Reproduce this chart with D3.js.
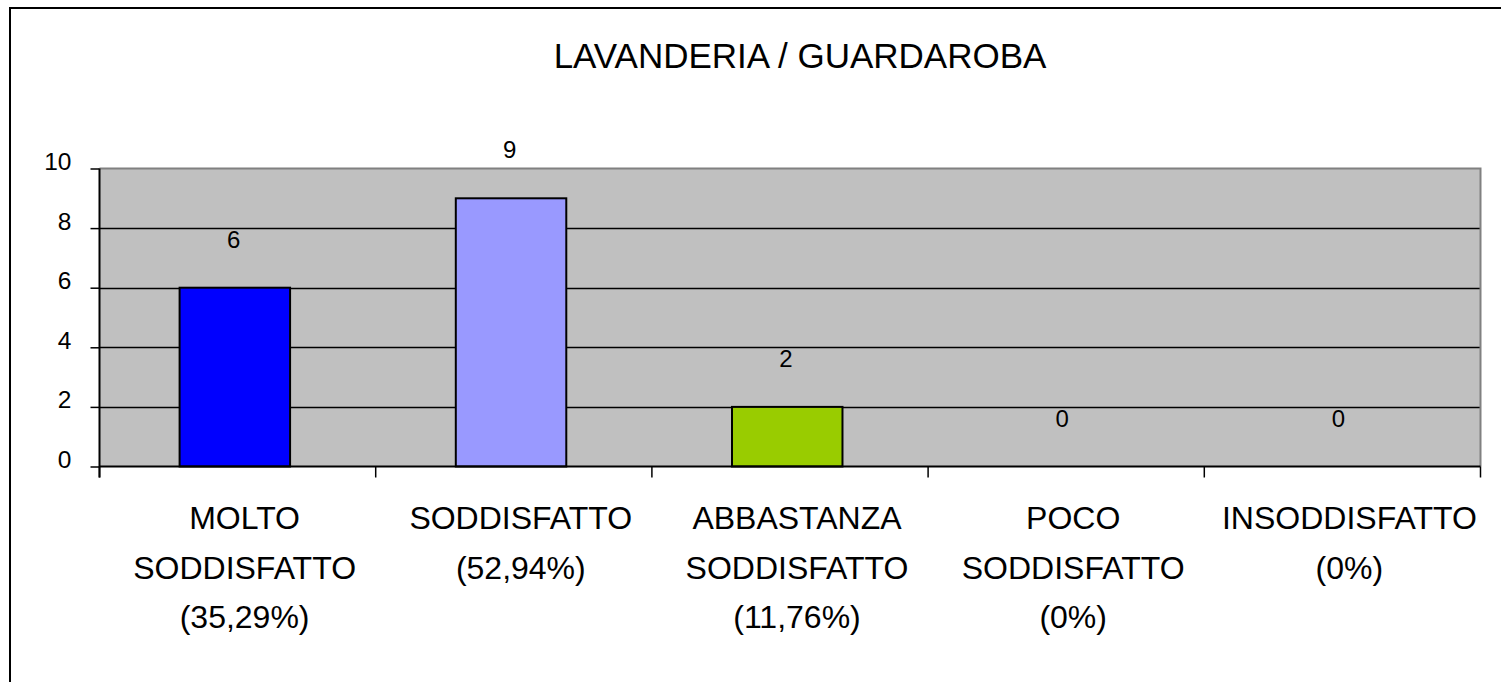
<!DOCTYPE html>
<html>
<head>
<meta charset="utf-8">
<script src="https://cdn.jsdelivr.net/npm/d3@7"></script>
<style>
  body { margin: 0; background: #fff; }
  svg { display: block; font-family: "Liberation Sans", Arial, sans-serif; }
</style>
</head>
<body>
<div id="chart"></div>
<script>
// Data
const title = 'LAVANDERIA / GUARDAROBA';
const categories = ['MOLTO SODDISFATTO', 'SODDISFATTO', 'ABBASTANZA SODDISFATTO', 'POCO SODDISFATTO', 'INSODDISFATTO'];
const values = [6, 9, 2, 0, 0];
const labelLines = [
  ['MOLTO', 'SODDISFATTO', '(35,29%)'],
  ['SODDISFATTO', '(52,94%)'],
  ['ABBASTANZA', 'SODDISFATTO', '(11,76%)'],
  ['POCO', 'SODDISFATTO', '(0%)'],
  ['INSODDISFATTO', '(0%)']
];
const barColors = ['#0000ff', '#9999ff', '#99cc00', '#993366', '#ffffcc'];
const yTicks = [0, 2, 4, 6, 8, 10];

function buildChart() {
  const width = 1501;
  const height = 682;
  const left = 99.5;
  const right = 1480.5;
  const top = 168.5;
  const bottom = 466.5;

  const dataset = categories.map((c, i) => ({ cat: c, value: values[i], color: barColors[i] }));

  const svg = d3.select('#chart').append('svg')
    .attr('width', width)
    .attr('height', height);

  // outer frame (left + top only visible)
  svg.append('path')
    .attr('d', `M10,${height} V8 H${width}`)
    .attr('fill', 'none')
    .attr('stroke', '#000')
    .attr('stroke-width', 2);

  // Title
  svg.append('text')
    .attr('x', 800)
    .attr('y', 68)
    .attr('text-anchor', 'middle')
    .attr('font-size', 35)
    .text(title);

  // Scales
  const xScale = d3.scaleBand().domain(categories).range([left, right]).padding(0);
  const yScale = d3.scaleLinear().domain([0, 10]).range([bottom, top]);
  const bw = xScale.bandwidth();

  // plot area
  svg.append('rect')
    .attr('x', left)
    .attr('y', top)
    .attr('width', right - left)
    .attr('height', bottom - top)
    .attr('fill', '#c0c0c0');

  // gridlines
  svg.append('g')
    .selectAll('line')
    .data(yTicks.filter((t) => t > 0 && t < 10))
    .enter()
    .append('line')
    .attr('x1', left)
    .attr('x2', right)
    .attr('y1', (d) => Math.round(yScale(d)) + 0.5)
    .attr('y2', (d) => Math.round(yScale(d)) + 0.5)
    .attr('stroke', '#000')
    .attr('stroke-width', 1.5);

  // plot border top/right (gray)
  svg.append('path')
    .attr('d', `M${left},${top} H${right} V${bottom}`)
    .attr('fill', 'none')
    .attr('stroke', '#808080')
    .attr('stroke-width', 2);

  // bars
  svg.append('g')
    .selectAll('rect')
    .data(dataset.filter((d) => d.value > 0))
    .enter()
    .append('rect')
    .attr('x', (d) => xScale(d.cat) + bw * 0.29)
    .attr('y', (d) => yScale(d.value))
    .attr('width', bw * 0.4)
    .attr('height', (d) => yScale(0) - yScale(d.value))
    .attr('fill', (d) => d.color)
    .attr('stroke', '#000')
    .attr('stroke-width', 2);

  // Y axis
  const yAxis = d3.axisLeft(yScale).tickValues(yTicks).tickSize(9).tickPadding(19).tickSizeOuter(0);
  const gy = svg.append('g')
    .attr('transform', `translate(${left},0)`)
    .call(yAxis);
  gy.select('.domain')
    .attr('d', `M0,${top} V${bottom + 11}`)
    .attr('stroke-width', 2);
  gy.selectAll('.tick line').attr('stroke-width', 1.5);
  gy.selectAll('.tick text')
    .attr('font-size', 24.5)
    .attr('font-family', '"Liberation Sans", Arial, sans-serif')
    .attr('fill', '#000')
    .attr('dy', '0')
    .attr('y', 1);

  // X axis
  const xAxis = d3.axisBottom(xScale).tickSize(0).tickFormat('');
  const gx = svg.append('g')
    .attr('transform', `translate(0,${bottom})`)
    .call(xAxis);
  gx.select('.domain').attr('d', `M${left},0 H${right}`).attr('stroke-width', 2);
  gx.selectAll('.tick').remove();

  // category boundary ticks
  svg.append('g')
    .selectAll('line')
    .data(categories.map((c) => xScale(c)).concat([right]))
    .enter()
    .append('line')
    .attr('x1', (d) => d)
    .attr('x2', (d) => d)
    .attr('y1', bottom)
    .attr('y2', bottom + 11)
    .attr('stroke', '#000')
    .attr('stroke-width', 1.5);

  // value labels
  svg.append('g')
    .selectAll('text')
    .data(dataset)
    .enter()
    .append('text')
    .attr('x', (d) => xScale(d.cat) + bw / 2 - 4)
    .attr('y', (d) => yScale(d.value) - 40)
    .attr('text-anchor', 'middle')
    .attr('font-size', 24)
    .text((d) => d.value);

  // category labels
  const labels = svg.append('g')
    .selectAll('text')
    .data(labelLines)
    .enter()
    .append('text')
    .attr('text-anchor', 'middle')
    .attr('font-size', 32);
  labels.each(function (lines, i) {
    const cx = xScale(categories[i]) + bw / 2 + 7;
    d3.select(this)
      .selectAll('tspan')
      .data(lines)
      .enter()
      .append('tspan')
      .attr('x', cx)
      .attr('y', (d, j) => 529 + j * 49.5)
      .text((d) => d);
  });
}

buildChart();
</script>
</body>
</html>
